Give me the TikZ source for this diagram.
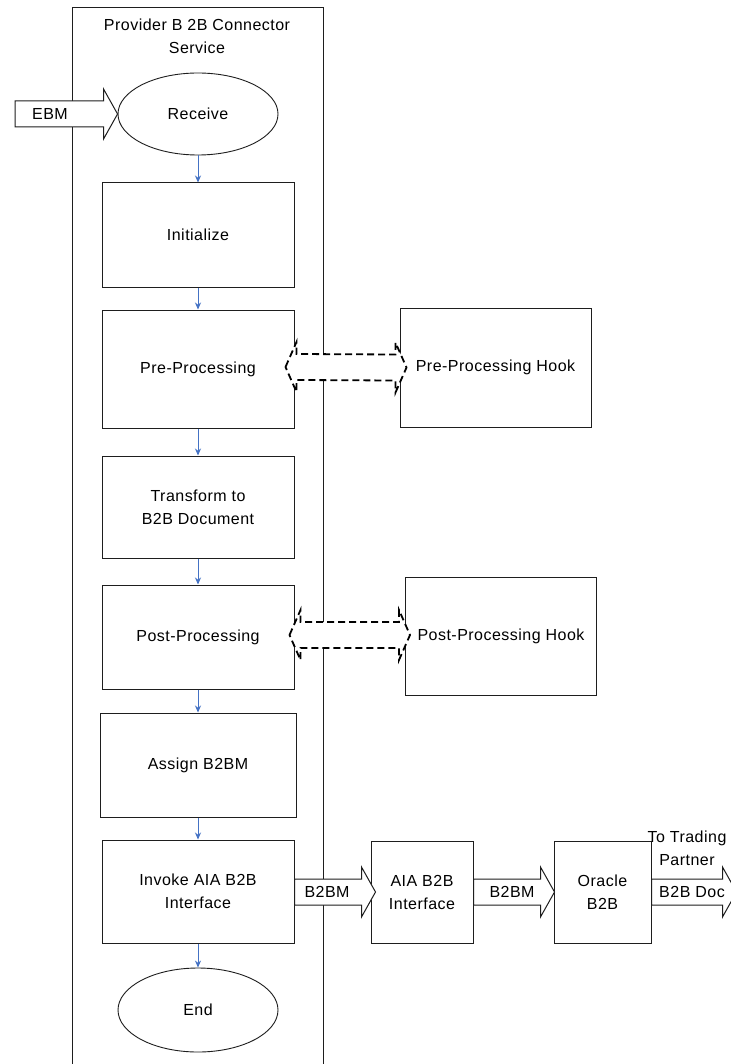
\documentclass[tikz,border=0pt]{standalone}
\usepackage{fontspec}
\setmainfont[LetterSpace=3]{Liberation Sans}
\usetikzlibrary{shapes.geometric,calc,arrows.meta}
\definecolor{flowblue}{RGB}{68,114,196}
\definecolor{edge}{RGB}{30,30,30}
\newcommand{\fatarr}[3]{%
  \draw[#3] ($#1+(0,-13)$) -- ($#2+(-14,-13)$) -- ($#2+(-14,-25)$) -- #2
    -- ($#2+(-14,25)$) -- ($#2+(-14,13)$) -- ($#1+(0,13)$) -- cycle;}
\newcommand{\dblarr}[3]{%
  \draw[#3] #1 -- ($#1+(11,-25)$) -- ($#1+(11,-13)$) -- ($#2+(-11,-13)$)
    -- ($#2+(-11,-25)$) -- #2 -- ($#2+(-11,25)$) -- ($#2+(-11,13)$)
    -- ($#1+(11,13)$) -- ($#1+(11,25)$) -- cycle;}
\begin{document}
\begin{tikzpicture}[x=1pt,y=-1pt,
  every node/.style={font=\fontsize{16}{23}\selectfont, align=center, inner sep=0pt},
  box/.style={draw=edge, line width=1pt, fill=white, minimum width=192pt},
  oval/.style={draw=edge, line width=0.9pt, ellipse, minimum width=160pt, minimum height=82pt},
  flow/.style={draw=flowblue, line width=0.8pt, -{Stealth[length=7pt,width=6pt]}},
  fat/.style={draw=edge, line width=1pt, fill=white},
  hookarr/.style={draw=black, line width=1.8pt, fill=white, dash pattern=on 7pt off 4pt}]
\useasboundingbox (0,0) rectangle (730,1064);
\fill[white] (0,0) rectangle (730,1064);
% container
\coordinate (cbl) at (72,1070);
\coordinate (ctl) at (72,8);
\coordinate (ctr) at (323,8);
\coordinate (cbr) at (323,1070);
\draw[edge, line width=1pt] (cbl) -- (ctl) -- (ctr) -- (cbr);
\node (title) at (197,36.5) {Provider B 2B Connector\\Service};
% main flow
\node[oval] (recv) at (198,114) {Receive};
\node[box, minimum height=104pt] (init) at (198,235) {Initialize};
\node[box, minimum height=118pt] (pre) at (198,369) {Pre-Processing};
\node[box, minimum height=102pt] (trans) at (198,507) {Transform to\\B2B Document};
\node[box, minimum height=104pt] (post) at (198,637) {Post-Processing};
\node[box, minimum width=196pt, minimum height=104pt] (assign) at (198,765) {Assign B2BM};
\node[box, minimum height=103pt] (invoke) at (198,891.5) {Invoke AIA B2B\\Interface};
\node[oval, minimum height=84pt] (end) at (198,1010) {End};
% hooks
\node[box, minimum width=191pt, minimum height=119pt] (prehook) at (495.5,367.5) {Pre-Processing Hook};
\node[box, minimum width=191pt, minimum height=118pt] (posthook) at (501,636) {Post-Processing Hook};
% downstream
\node[box, minimum width=102pt, minimum height=102pt] (aia) at (422,892) {AIA B2B\\Interface};
\node[box, minimum width=97pt, minimum height=102pt] (oracle) at (602.5,892) {Oracle\\B2B};
% flow arrows
\draw[flow] (recv.south) -- (init.north);
\draw[flow] (init.south) -- (pre.north);
\draw[flow] (pre.south) -- (trans.north);
\draw[flow] (trans.south) -- (post.north);
\draw[flow] (post.south) -- (assign.north);
\draw[flow] (assign.south) -- (invoke.north);
\draw[flow] (invoke.south) -- (end.north);
% EBM arrow
\coordinate (ebmstart) at (15,114);
\fatarr{(ebmstart)}{(recv.west)}{fat}
\node (ebm) at (50,114) {EBM};
% hook double arrows
\coordinate (preL) at ($(pre.east)+(-9,-2)$);
\coordinate (preR) at ($(prehook.west)+(7,0)$);
\dblarr{(preL)}{(preR)}{hookarr}
\coordinate (postL) at ($(post.east)+(-5,-2)$);
\coordinate (postR) at ($(posthook.west)+(5,-1)$);
\dblarr{(postL)}{(postR)}{hookarr}
% B2BM arrows
\coordinate (b1s) at (invoke.east |- aia.west);
\coordinate (b1e) at ($(aia.west)+(5,0)$);
\fatarr{(b1s)}{(b1e)}{fat}
\node (b2bm1) at (327,892) {B2BM};
\coordinate (b2s) at (aia.east);
\coordinate (b2e) at ($(oracle.west)+(1,0)$);
\fatarr{(b2s)}{(b2e)}{fat}
\node (b2bm2) at (512,892) {B2BM};
\coordinate (b3s) at (oracle.east);
\coordinate (b3e) at ($(oracle.east)+(85,0)$);
\fatarr{(b3s)}{(b3e)}{fat}
\node (b2bdoc) at (692,892) {B2B Doc};
\node (trading) at (687,848) {To Trading\\Partner};
\end{tikzpicture}
\end{document}
